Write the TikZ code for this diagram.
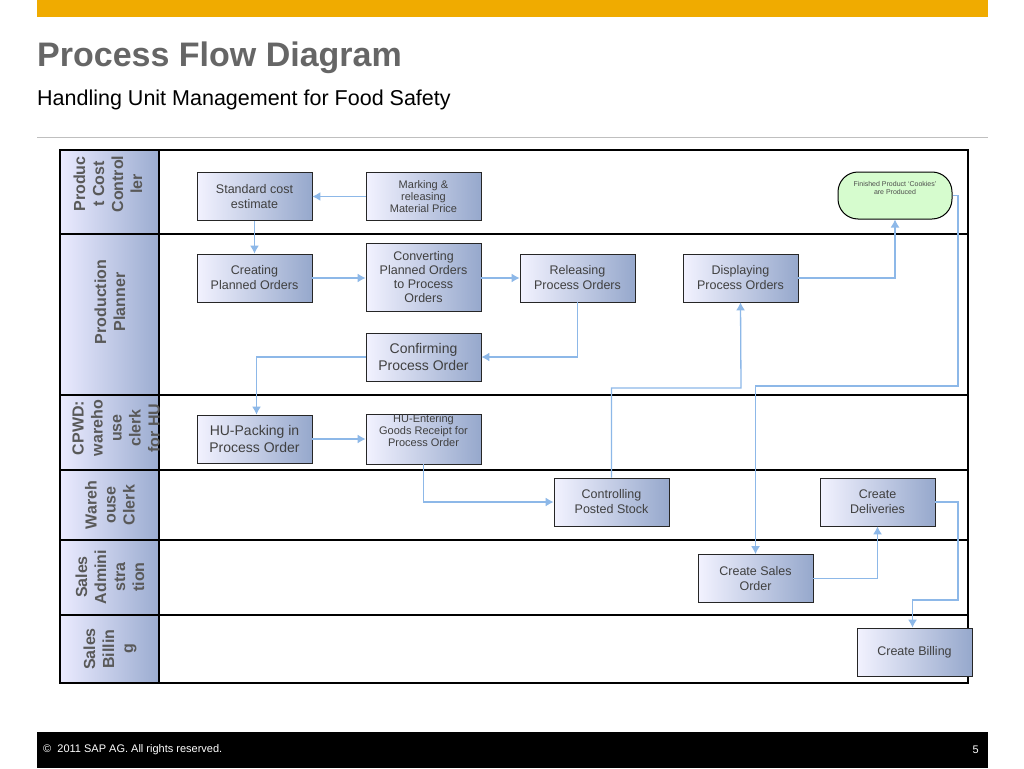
\documentclass[tikz,border=0pt]{standalone}
\usepackage{fontspec}
\setmainfont{Liberation Sans}
\usetikzlibrary{arrows.meta}
\definecolor{sapgold}{RGB}{240,171,0}
\definecolor{connblue}{RGB}{141,184,232}
\definecolor{boxdark}{RGB}{150,168,204}
\definecolor{labdark}{RGB}{155,172,208}
\definecolor{fingreen}{RGB}{214,252,206}
\begin{document}
\begin{tikzpicture}[x=1pt,y=-1pt,
  conn/.style={draw=connblue,line width=1.3pt,-{Latex[length=8pt,width=9pt]}},
  proc/.style={draw=black!85,line width=0.8pt,minimum width=115pt,minimum height=48pt,inner sep=1pt,align=center,
    shading=axis,shading angle=135,left color=white!95!blue,right color=boxdark,
    font=\fontsize{12.5}{15}\selectfont,text=black!75},
  small/.style={font=\fontsize{11}{12}\selectfont},
  lane/.style={draw=black,line width=1.2pt},
  lab/.style={rotate=90,align=center,font=\fontsize{16}{19}\selectfont\bfseries,text=black!65}]
\useasboundingbox (0,0) rectangle (1024,768);
\fill[white] (0,0) rectangle (1024,768);
\fill[sapgold] (37,0) rectangle (988,17);
\node[anchor=west,inner sep=0pt,font=\fontsize{34}{34}\selectfont\bfseries,text=black!60] (title) at (37,58) {Process Flow Diagram};
\node[anchor=west,inner sep=0pt,font=\fontsize{21.5}{22}\selectfont] (sub) at (37,100) {Handling Unit Management for Food Safety};
\draw[black!25,line width=1pt] (37,137) -- (988,137);
\fill[black] (37,732) rectangle (988,768);
\node[anchor=west,inner sep=0pt,text=white,font=\fontsize{11}{11}\selectfont] (copy) at (43,750) {\textcopyright\ \ 2011 SAP AG. All rights reserved.};
\node[anchor=east,inner sep=0pt,text=white,font=\fontsize{11}{11}\selectfont] (pg) at (979,750) {5};
% lanes
\foreach \a/\b in {150/234,234/395,395/470,470/540,540/615,615/683}{
  \draw[lane] (159,\a) rectangle (968,\b);
  \draw[lane,shading=axis,shading angle=135,left color=white!92!blue,right color=labdark] (60,\a) rectangle (159,\b);
}
\node[lab] (l1) at (108,184) {Produc\\t Cost\\Control\\ler};
\node[lab] (l2) at (110,302) {Production\\Planner};
\node[lab] (l3) at (116,428) {CPWD:\\wareho\\use\\clerk\\for HU};
\node[lab] (l4) at (110,505) {Wareh\\ouse\\Clerk};
\node[lab] (l5) at (110,577) {Sales\\Admini\\stra\\tion};
\node[lab] (l6) at (110,649) {Sales\\Billin\\g};
% boxes
\node[proc] (sce) at (254.5,196.5) {Standard cost\\estimate};
\node[proc,small] (mark) at (423.5,196.5) {Marking \&\\releasing\\Material Price};
\node[draw=black,line width=1pt,rounded corners=20pt,fill=fingreen,minimum width=114pt,minimum height=47pt,align=center,font=\fontsize{7}{7.5}\selectfont,text=black!70] (fin) at (895,195.5) {Finished Product `Cookies'\\are Produced\\[8pt]};
\node[proc] (cpo) at (254.5,278) {Creating\\Planned Orders};
\node[proc,font=\fontsize{12.5}{14}\selectfont,minimum height=68pt] (conv) at (423.5,277) {Converting\\Planned Orders\\to Process\\Orders};
\node[proc] (rel) at (577.5,278) {Releasing\\Process Orders};
\node[proc] (disp) at (740.5,278) {Displaying\\Process Orders};
\node[proc,font=\fontsize{14}{17}\selectfont] (conf) at (423.5,357) {Confirming\\Process Order};
\node[proc,font=\fontsize{14}{17}\selectfont] (pack) at (254.5,439) {HU-Packing in\\Process Order};
\node[proc,small] (gr) at (423.5,439) {HU-Entering\\Goods Receipt for\\Process Order\\[4pt]};
\node[proc] (ctrl) at (611.5,502) {Controlling\\Posted Stock};
\node[proc] (deliv) at (877.5,502) {Create\\Deliveries};
\node[proc] (so) at (755.5,578.5) {Create Sales\\Order};
\node[proc] (bill) at (914.5,652) {Create Billing};
% connectors
\draw[conn] (mark) -- (sce);
\draw[conn] (sce) -- (cpo);
\draw[conn] (cpo) -- (conv.west |- cpo);
\draw[conn] (conv.east |- rel) -- (rel);
\draw[conn] (rel.south) |- (conf.east);
\draw[conn] (conf.west) -| ([xshift=2pt]pack.north);
\draw[conn] (pack) -- (gr);
\draw[conn] (gr.south) |- (ctrl.west);
\draw[conn] (ctrl.north) |- (741,388) -- (disp.south);
\draw[conn] (disp.east) -| (fin.south);
\draw[conn] (fin.east) -| (958,386) -| (so.north);
\draw[conn] (so.east) -| (deliv.south);
\draw[conn] (deliv.east) -| (958,600) -| ([xshift=-2pt]bill.north);
\end{tikzpicture}
\end{document}
